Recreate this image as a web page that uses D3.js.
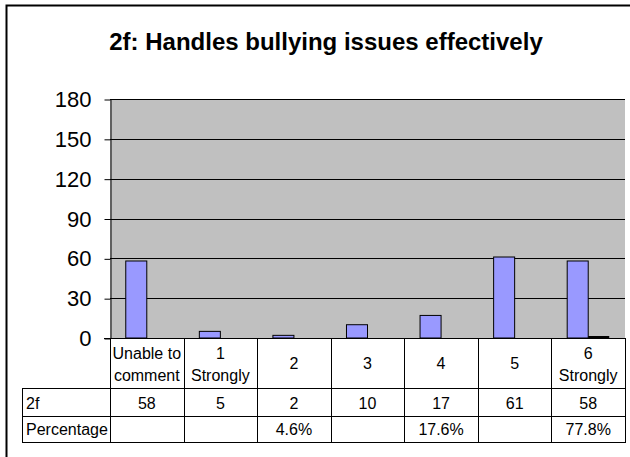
<!DOCTYPE html>
<html>
<head>
<meta charset="utf-8">
<script src="https://cdn.jsdelivr.net/npm/d3@7"></script>
<style>
  html, body { margin: 0; padding: 0; background: #fff; }
  svg { display: block; font-family: Arial, "Liberation Sans", sans-serif; }
</style>
</head>
<body>
<svg id="chart" width="630" height="457"></svg>
<script>
const title = "2f: Handles bullying issues effectively";
const categories = ["Unable to comment", "1 Strongly", "2", "3", "4", "5", "6 Strongly"];
const categoryLines = [["Unable to", "comment"], ["1", "Strongly"], ["2"], ["3"], ["4"], ["5"], ["6", "Strongly"]];
const seriesNames = ["2f", "Percentage"];
const counts = [58, 5, 2, 10, 17, 61, 58];
const percentages = [null, null, 0.046, null, 0.176, null, 0.778];
const percentLabels = ["", "", "4.6%", "", "17.6%", "", "77.8%"];
const yTicks = [0, 30, 60, 90, 120, 150, 180];

const svg = d3.select("#chart");

// outer chart border (right/bottom fall outside the view)
svg.append("rect").attr("x", 6.5).attr("y", 5.5).attr("width", 660).attr("height", 480)
  .attr("fill", "#fff").attr("stroke", "#000").attr("stroke-width", 2);

const pLeft = 110, pRight = 625, pTop = 99, pBottom = 338;
const x = d3.scaleBand().domain(categories).range([pLeft, pRight]).paddingInner(0).paddingOuter(0);
const y = d3.scaleLinear().domain([0, 180]).range([pBottom, pTop]);

// title
svg.append("text").attr("x", 326).attr("y", 50).attr("text-anchor", "middle")
  .attr("font-size", 24).attr("font-weight", "bold").text(title);

// plot background
svg.append("rect").attr("x", pLeft).attr("y", pTop).attr("width", pRight - pLeft).attr("height", pBottom - pTop)
  .attr("fill", "#C0C0C0");

// gridlines
svg.append("g").selectAll("line").data(yTicks.filter(t => t > 0)).join("line")
  .attr("x1", pLeft).attr("x2", pRight)
  .attr("y1", d => Math.round(y(d)) + 0.5).attr("y2", d => Math.round(y(d)) + 0.5)
  .attr("stroke", "#000").attr("stroke-width", 1);

// y axis
const yAxis = d3.axisLeft(y).tickValues(yTicks).tickSize(6).tickSizeOuter(0).tickPadding(13).tickFormat(d3.format("d"));
const gy = svg.append("g").attr("transform", `translate(${pLeft + 0.5},0.5)`).call(yAxis);
gy.selectAll("text").attr("font-size", 22).attr("fill", "#000").attr("font-family", "Arial, 'Liberation Sans', sans-serif");
gy.selectAll("line").attr("stroke", "#000");
gy.select(".domain").attr("stroke", "#000");

// bars (Excel clustered: 2 series, gap width 150%)
const bw = x.bandwidth() / 3.5;
const off = bw * 0.75;
svg.append("g").selectAll("rect").data(counts).join("rect")
  .attr("x", (d, i) => x(categories[i]) + off)
  .attr("y", d => y(d))
  .attr("width", bw)
  .attr("height", d => y(0) - y(d))
  .attr("fill", "#9999FF").attr("stroke", "#000").attr("stroke-width", 1);

const pctData = percentages.map((v, i) => ({ v, i })).filter(d => d.v !== null);
svg.append("g").selectAll("rect").data(pctData).join("rect")
  .attr("x", d => x(categories[d.i]) + off + bw)
  .attr("y", d => Math.round(y(d.v)) - 1)
  .attr("width", bw)
  .attr("height", d => (y(0) - Math.round(y(d.v))) * 2)
  .attr("fill", "#000").attr("stroke", "none");

// x axis line
svg.append("line").attr("x1", pLeft - 6).attr("x2", pRight).attr("y1", pBottom + 0.5).attr("y2", pBottom + 0.5)
  .attr("stroke", "#000");

// data table
const tLeft = 22, r1 = 388, r2 = 416, r3 = 442;
const tg = svg.append("g").attr("stroke", "#000").attr("stroke-width", 1);
const edges = categories.map(c => x(c)).concat([pRight]);
tg.selectAll("line.v").data(edges).join("line").attr("class", "v")
  .attr("x1", d => Math.round(d) + 0.5).attr("x2", d => Math.round(d) + 0.5)
  .attr("y1", pBottom).attr("y2", r3);
tg.append("line").attr("x1", tLeft + 0.5).attr("x2", tLeft + 0.5).attr("y1", r1).attr("y2", r3);
[r1, r2, r3].forEach(r => {
  tg.append("line").attr("x1", tLeft).attr("x2", pRight + 1).attr("y1", r + 0.5).attr("y2", r + 0.5);
});

// category labels
const lab = svg.append("g").attr("font-size", 16).attr("fill", "#000").attr("text-anchor", "middle");
categoryLines.forEach((lines, i) => {
  const cx = x(categories[i]) + x.bandwidth() / 2;
  const ys = lines.length === 2 ? [359, 381] : [369];
  lines.forEach((t, j) => lab.append("text").attr("x", cx).attr("y", ys[j]).text(t));
});

// series names
svg.append("g").attr("font-size", 16).selectAll("text").data(seriesNames).join("text")
  .attr("x", tLeft + 4).attr("y", (d, i) => i === 0 ? 409 : 435).text(d => d);

// values
svg.append("g").attr("font-size", 16).attr("text-anchor", "middle").selectAll("text").data(counts).join("text")
  .attr("x", (d, i) => x(categories[i]) + x.bandwidth() / 2).attr("y", 409).text(d => d);
svg.append("g").attr("font-size", 16).attr("text-anchor", "middle").selectAll("text").data(percentLabels).join("text")
  .attr("x", (d, i) => x(categories[i]) + x.bandwidth() / 2).attr("y", 435).text(d => d);
</script>
</body>
</html>
